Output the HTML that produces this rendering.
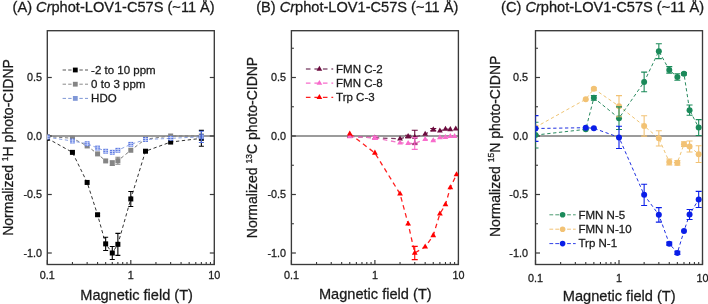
<!DOCTYPE html>
<html><head><meta charset="utf-8"><style>html,body{margin:0;padding:0;background:#fff;width:708px;height:304px;overflow:hidden}svg{display:block;will-change:transform}text{font-family:"Liberation Sans",sans-serif;stroke:#1a1a1a;stroke-width:0.28px}</style></head><body><svg width="708" height="304" viewBox="0 0 708 304" font-family="Liberation Sans, sans-serif"><defs><clipPath id="clip0"><rect x="47.3" y="30.7" width="167" height="233.8"/></clipPath><clipPath id="clip1"><rect x="291.4" y="30.7" width="167" height="233.8"/></clipPath><clipPath id="clip2"><rect x="535.5" y="30.7" width="167" height="233.8"/></clipPath></defs><rect width="708" height="304" fill="#fff"/><path d="M47.3 136H214.3" stroke="#7a7a7a" stroke-width="1.4"/><path d="M47.3 264.5V260" stroke="#3a3a3a" stroke-width="1.2"/><path d="M72.44 264.5V262" stroke="#3a3a3a" stroke-width="1.1"/><path d="M87.14 264.5V262" stroke="#3a3a3a" stroke-width="1.1"/><path d="M97.57 264.5V262" stroke="#3a3a3a" stroke-width="1.1"/><path d="M105.66 264.5V262" stroke="#3a3a3a" stroke-width="1.1"/><path d="M112.28 264.5V262" stroke="#3a3a3a" stroke-width="1.1"/><path d="M117.87 264.5V262" stroke="#3a3a3a" stroke-width="1.1"/><path d="M122.71 264.5V262" stroke="#3a3a3a" stroke-width="1.1"/><path d="M126.98 264.5V262" stroke="#3a3a3a" stroke-width="1.1"/><path d="M130.8 264.5V260" stroke="#3a3a3a" stroke-width="1.2"/><path d="M155.94 264.5V262" stroke="#3a3a3a" stroke-width="1.1"/><path d="M170.64 264.5V262" stroke="#3a3a3a" stroke-width="1.1"/><path d="M181.07 264.5V262" stroke="#3a3a3a" stroke-width="1.1"/><path d="M189.16 264.5V262" stroke="#3a3a3a" stroke-width="1.1"/><path d="M195.78 264.5V262" stroke="#3a3a3a" stroke-width="1.1"/><path d="M201.37 264.5V262" stroke="#3a3a3a" stroke-width="1.1"/><path d="M206.21 264.5V262" stroke="#3a3a3a" stroke-width="1.1"/><path d="M210.48 264.5V262" stroke="#3a3a3a" stroke-width="1.1"/><path d="M214.3 264.5V260" stroke="#3a3a3a" stroke-width="1.2"/><path d="M47.3 77.5H51.8" stroke="#3a3a3a" stroke-width="1.2"/><path d="M214.3 77.5H209.8" stroke="#3a3a3a" stroke-width="1.2"/><text x="42" y="81.4" font-size="10.8" text-anchor="end" fill="#222">0.5</text><path d="M47.3 136H51.8" stroke="#3a3a3a" stroke-width="1.2"/><path d="M214.3 136H209.8" stroke="#3a3a3a" stroke-width="1.2"/><text x="42" y="139.9" font-size="10.8" text-anchor="end" fill="#222">0.0</text><path d="M47.3 194.5H51.8" stroke="#3a3a3a" stroke-width="1.2"/><path d="M214.3 194.5H209.8" stroke="#3a3a3a" stroke-width="1.2"/><text x="42" y="198.4" font-size="10.8" text-anchor="end" fill="#222">-0.5</text><path d="M47.3 253H51.8" stroke="#3a3a3a" stroke-width="1.2"/><path d="M214.3 253H209.8" stroke="#3a3a3a" stroke-width="1.2"/><text x="42" y="256.9" font-size="10.8" text-anchor="end" fill="#222">-1.0</text><text x="47.3" y="278.7" font-size="10.8" text-anchor="middle" fill="#222">0.1</text><text x="130.8" y="278.7" font-size="10.8" text-anchor="middle" fill="#222">1</text><text x="214.3" y="278.7" font-size="10.8" text-anchor="middle" fill="#222">10</text><rect x="47.3" y="30.7" width="167" height="233.8" fill="none" stroke="#3a3a3a" stroke-width="1.35"/><text x="136.6" y="299.5" font-size="14.6" text-anchor="middle" fill="#1a1a1a">Magnetic field (T)</text><text x="214.7" y="12" font-size="14.6" text-anchor="end" fill="#1a1a1a">(A) <tspan font-style="italic">Cr</tspan>phot-LOV1-C57S (~11 Å)</text><text transform="translate(13.4 147.5) rotate(-90)" font-size="14" text-anchor="middle" fill="#1a1a1a">Normalized <tspan font-size="8.5" dy="-5.5">1</tspan><tspan dy="5.5">H photo-CIDNP</tspan></text><g clip-path="url(#clip0)"><path d="M47.3 138.34 L72.44 152.38 L87.14 182.45 L97.57 214.74 L105.66 243.87 L112.28 253 L117.87 244.34 L130.8 198.95 L145.5 151.21 L170.64 142.08 L201.37 138.34" fill="none" stroke="#333" stroke-width="1.0" stroke-dasharray="3.3 2.6"/><path d="M47.3 136.59 L72.44 138.22 L87.14 145.94 L97.57 153.9 L105.66 160.92 L112.28 163.14 L117.87 160.69 L130.8 150.27 L145.5 139.16 L170.64 136 L201.37 136" fill="none" stroke="#7a7a7a" stroke-width="1.0" stroke-dasharray="3.3 2.6"/><path d="M47.3 137.17 L72.44 141.03 L87.14 143.72 L97.57 148.05 L105.66 151.21 L112.28 152.26 L117.87 150.27 L130.8 144.31 L145.5 139.51 L170.64 138.34 L201.37 136.82" fill="none" stroke="#8aa0e0" stroke-width="1.0" stroke-dasharray="3.3 2.6"/><rect x="44.8" y="135.84" width="5" height="5" fill="#000"/><rect x="69.94" y="149.88" width="5" height="5" fill="#000"/><rect x="84.64" y="179.95" width="5" height="5" fill="#000"/><rect x="95.07" y="212.24" width="5" height="5" fill="#000"/><rect x="103.16" y="241.37" width="5" height="5" fill="#000"/><rect x="109.78" y="250.5" width="5" height="5" fill="#000"/><rect x="115.37" y="241.84" width="5" height="5" fill="#000"/><rect x="128.3" y="196.45" width="5" height="5" fill="#000"/><rect x="143" y="148.71" width="5" height="5" fill="#000"/><rect x="168.14" y="139.58" width="5" height="5" fill="#000"/><rect x="198.87" y="135.84" width="5" height="5" fill="#000"/><rect x="44.8" y="134.09" width="5" height="5" fill="#858585"/><rect x="69.94" y="135.72" width="5" height="5" fill="#858585"/><rect x="84.64" y="143.44" width="5" height="5" fill="#858585"/><rect x="95.07" y="151.4" width="5" height="5" fill="#858585"/><rect x="103.16" y="158.42" width="5" height="5" fill="#858585"/><rect x="109.78" y="160.64" width="5" height="5" fill="#858585"/><rect x="115.37" y="158.19" width="5" height="5" fill="#858585"/><rect x="128.3" y="147.77" width="5" height="5" fill="#858585"/><rect x="143" y="136.66" width="5" height="5" fill="#858585"/><rect x="168.14" y="133.5" width="5" height="5" fill="#858585"/><rect x="198.87" y="133.5" width="5" height="5" fill="#858585"/><rect x="44.9" y="134.77" width="4.8" height="4.8" fill="#4f6fe0"/><path d="M44.9 136.27H49.7M44.9 138.27H49.7M47.5 134.77V139.57" stroke="#dfe6fb" stroke-width="0.8"/><rect x="70.04" y="138.63" width="4.8" height="4.8" fill="#4f6fe0"/><path d="M70.04 140.13H74.84M70.04 142.13H74.84M72.64 138.63V143.43" stroke="#dfe6fb" stroke-width="0.8"/><rect x="84.74" y="141.32" width="4.8" height="4.8" fill="#4f6fe0"/><path d="M84.74 142.82H89.54M84.74 144.82H89.54M87.34 141.32V146.12" stroke="#dfe6fb" stroke-width="0.8"/><rect x="95.17" y="145.65" width="4.8" height="4.8" fill="#4f6fe0"/><path d="M95.17 147.15H99.97M95.17 149.15H99.97M97.77 145.65V150.45" stroke="#dfe6fb" stroke-width="0.8"/><rect x="103.26" y="148.81" width="4.8" height="4.8" fill="#4f6fe0"/><path d="M103.26 150.31H108.06M103.26 152.31H108.06M105.86 148.81V153.61" stroke="#dfe6fb" stroke-width="0.8"/><rect x="109.88" y="149.86" width="4.8" height="4.8" fill="#4f6fe0"/><path d="M109.88 151.36H114.68M109.88 153.36H114.68M112.48 149.86V154.66" stroke="#dfe6fb" stroke-width="0.8"/><rect x="115.47" y="147.87" width="4.8" height="4.8" fill="#4f6fe0"/><path d="M115.47 149.37H120.27M115.47 151.37H120.27M118.07 147.87V152.67" stroke="#dfe6fb" stroke-width="0.8"/><rect x="128.4" y="141.91" width="4.8" height="4.8" fill="#4f6fe0"/><path d="M128.4 143.41H133.2M128.4 145.41H133.2M131 141.91V146.71" stroke="#dfe6fb" stroke-width="0.8"/><rect x="143.1" y="137.11" width="4.8" height="4.8" fill="#4f6fe0"/><path d="M143.1 138.61H147.9M143.1 140.61H147.9M145.7 137.11V141.91" stroke="#dfe6fb" stroke-width="0.8"/><rect x="168.24" y="135.94" width="4.8" height="4.8" fill="#4f6fe0"/><path d="M168.24 137.44H173.04M168.24 139.44H173.04M170.84 135.94V140.74" stroke="#dfe6fb" stroke-width="0.8"/><rect x="198.97" y="134.42" width="4.8" height="4.8" fill="#4f6fe0"/><path d="M198.97 135.92H203.77M198.97 137.92H203.77M201.57 134.42V139.22" stroke="#dfe6fb" stroke-width="0.8"/><path d="M97.57 213.57V215.91M95.07 213.57H100.07M95.07 215.91H100.07" stroke="#000" stroke-width="1.1" fill="none"/><path d="M105.66 237.21V250.54M103.16 237.21H108.16M103.16 250.54H108.16" stroke="#000" stroke-width="1.1" fill="none"/><path d="M112.28 246.45V259.55M109.78 246.45H114.78M109.78 259.55H114.78" stroke="#000" stroke-width="1.1" fill="none"/><path d="M117.87 233.34V255.34M115.37 233.34H120.37M115.37 255.34H120.37" stroke="#000" stroke-width="1.1" fill="none"/><path d="M130.8 191.46V206.43M128.3 191.46H133.3M128.3 206.43H133.3" stroke="#000" stroke-width="1.1" fill="none"/><path d="M201.37 130.38V146.3M198.87 130.38H203.87M198.87 146.3H203.87" stroke="#000" stroke-width="1.1" fill="none"/><path d="M112.28 160.8V165.48M109.78 160.8H114.78M109.78 165.48H114.78" stroke="#858585" stroke-width="1.1" fill="none"/><path d="M117.87 157.18V164.2M115.37 157.18H120.37M115.37 164.2H120.37" stroke="#858585" stroke-width="1.1" fill="none"/><path d="M201.37 131.2V142.44M198.87 131.2H203.87M198.87 142.44H203.87" stroke="#4f6fe0" stroke-width="1.1" fill="none"/></g><path d="M62.6 70H88" stroke="#555" stroke-width="1" stroke-dasharray="3.4 2.2"/><rect x="72.9" y="67.6" width="4.8" height="4.8" fill="#000"/><text x="91.1" y="73.7" font-size="11.5" fill="#1a1a1a">-2 to 10 ppm</text><path d="M62.6 84.2H88" stroke="#8a8a8a" stroke-width="1" stroke-dasharray="3.4 2.2"/><rect x="72.9" y="81.8" width="4.8" height="4.8" fill="#858585"/><text x="91.1" y="87.9" font-size="11.5" fill="#1a1a1a">0 to 3 ppm</text><path d="M62.6 98.4H88" stroke="#7f97d6" stroke-width="1" stroke-dasharray="3.4 2.2"/><rect x="72.9" y="96" width="4.8" height="4.8" fill="#7f97d6"/><text x="91.1" y="102.1" font-size="11.5" fill="#1a1a1a">HDO</text><path d="M291.4 136H458.4" stroke="#7a7a7a" stroke-width="1.4"/><path d="M291.4 264.5V260" stroke="#3a3a3a" stroke-width="1.2"/><path d="M316.54 264.5V262" stroke="#3a3a3a" stroke-width="1.1"/><path d="M331.24 264.5V262" stroke="#3a3a3a" stroke-width="1.1"/><path d="M341.67 264.5V262" stroke="#3a3a3a" stroke-width="1.1"/><path d="M349.76 264.5V262" stroke="#3a3a3a" stroke-width="1.1"/><path d="M356.38 264.5V262" stroke="#3a3a3a" stroke-width="1.1"/><path d="M361.97 264.5V262" stroke="#3a3a3a" stroke-width="1.1"/><path d="M366.81 264.5V262" stroke="#3a3a3a" stroke-width="1.1"/><path d="M371.08 264.5V262" stroke="#3a3a3a" stroke-width="1.1"/><path d="M374.9 264.5V260" stroke="#3a3a3a" stroke-width="1.2"/><path d="M400.04 264.5V262" stroke="#3a3a3a" stroke-width="1.1"/><path d="M414.74 264.5V262" stroke="#3a3a3a" stroke-width="1.1"/><path d="M425.17 264.5V262" stroke="#3a3a3a" stroke-width="1.1"/><path d="M433.26 264.5V262" stroke="#3a3a3a" stroke-width="1.1"/><path d="M439.88 264.5V262" stroke="#3a3a3a" stroke-width="1.1"/><path d="M445.47 264.5V262" stroke="#3a3a3a" stroke-width="1.1"/><path d="M450.31 264.5V262" stroke="#3a3a3a" stroke-width="1.1"/><path d="M454.58 264.5V262" stroke="#3a3a3a" stroke-width="1.1"/><path d="M458.4 264.5V260" stroke="#3a3a3a" stroke-width="1.2"/><path d="M291.4 77.5H295.9" stroke="#3a3a3a" stroke-width="1.2"/><text x="286.1" y="81.4" font-size="10.8" text-anchor="end" fill="#222">0.5</text><path d="M291.4 136H295.9" stroke="#3a3a3a" stroke-width="1.2"/><text x="286.1" y="139.9" font-size="10.8" text-anchor="end" fill="#222">0.0</text><path d="M291.4 194.5H295.9" stroke="#3a3a3a" stroke-width="1.2"/><text x="286.1" y="198.4" font-size="10.8" text-anchor="end" fill="#222">-0.5</text><path d="M291.4 253H295.9" stroke="#3a3a3a" stroke-width="1.2"/><text x="286.1" y="256.9" font-size="10.8" text-anchor="end" fill="#222">-1.0</text><path d="M291.4 48.25H293.9" stroke="#3a3a3a" stroke-width="1.1"/><path d="M291.4 106.75H293.9" stroke="#3a3a3a" stroke-width="1.1"/><path d="M291.4 165.25H293.9" stroke="#3a3a3a" stroke-width="1.1"/><path d="M291.4 223.75H293.9" stroke="#3a3a3a" stroke-width="1.1"/><text x="291.4" y="278.7" font-size="10.8" text-anchor="middle" fill="#222">0.1</text><text x="374.9" y="278.7" font-size="10.8" text-anchor="middle" fill="#222">1</text><text x="458.4" y="278.7" font-size="10.8" text-anchor="middle" fill="#222">10</text><rect x="291.4" y="30.7" width="167" height="233.8" fill="none" stroke="#3a3a3a" stroke-width="1.35"/><text x="375.3" y="299.3" font-size="14.6" text-anchor="middle" fill="#1a1a1a">Magnetic field (T)</text><text x="458.3" y="12" font-size="14.6" text-anchor="end" fill="#1a1a1a">(B) <tspan font-style="italic">Cr</tspan>phot-LOV1-C57S (~11 Å)</text><text transform="translate(257.1 147.5) rotate(-90)" font-size="14" text-anchor="middle" fill="#1a1a1a">Normalized <tspan font-size="8.5" dy="-5.5">13</tspan><tspan dy="5.5">C photo-CIDNP</tspan></text><g clip-path="url(#clip1)"><path d="M349.76 136.23 L374.9 137.75 L400.04 138.81 L408.13 136.47 L414.74 137.17 L425.17 134.13 L433.26 129.68 L439.88 130.85 L445.47 129.1 L450.31 129.45 L455.77 128.86" fill="none" stroke="#7a3a60" stroke-width="1.3" stroke-dasharray="4.6 3.7"/><path d="M349.76 136.47 L374.9 137.87 L400.04 142.79 L408.13 143.25 L414.74 143.49 L425.17 139.28 L433.26 140.68 L439.88 137.64 L445.47 137.4 L450.31 136.35 L454.58 136.35" fill="none" stroke="#f07ac8" stroke-width="1.3" stroke-dasharray="4.6 3.7"/><path d="M349.76 133.78 L374.9 152.97 L400.04 193.91 L408.13 223.75 L414.74 253 L425.17 246.92 L433.26 235.45 L439.88 213.81 L445.47 204.68 L450.31 187.6 L456.54 174.49" fill="none" stroke="#ff2020" stroke-width="1.3" stroke-dasharray="4.6 3.7"/><path d="M346.86 137.92L349.76 132.87L352.66 137.92Z" fill="#6c0b3e"/><path d="M372 139.44L374.9 134.39L377.8 139.44Z" fill="#6c0b3e"/><path d="M397.14 140.49L400.04 135.44L402.94 140.49Z" fill="#6c0b3e"/><path d="M405.23 138.15L408.13 133.1L411.03 138.15Z" fill="#6c0b3e"/><path d="M411.84 138.85L414.74 133.81L417.64 138.85Z" fill="#6c0b3e"/><path d="M422.27 135.81L425.17 130.76L428.07 135.81Z" fill="#6c0b3e"/><path d="M430.36 131.36L433.26 126.32L436.16 131.36Z" fill="#6c0b3e"/><path d="M436.98 132.53L439.88 127.49L442.78 132.53Z" fill="#6c0b3e"/><path d="M442.57 130.78L445.47 125.73L448.37 130.78Z" fill="#6c0b3e"/><path d="M447.41 131.13L450.31 126.08L453.21 131.13Z" fill="#6c0b3e"/><path d="M452.87 130.54L455.77 125.5L458.67 130.54Z" fill="#6c0b3e"/><path d="M346.86 138.15L349.76 133.1L352.66 138.15Z" fill="#f86ccc"/><path d="M372 139.55L374.9 134.51L377.8 139.55Z" fill="#f86ccc"/><path d="M397.14 144.47L400.04 139.42L402.94 144.47Z" fill="#f86ccc"/><path d="M405.23 144.94L408.13 139.89L411.03 144.94Z" fill="#f86ccc"/><path d="M411.84 145.17L414.74 140.12L417.64 145.17Z" fill="#f86ccc"/><path d="M422.27 140.96L425.17 135.91L428.07 140.96Z" fill="#f86ccc"/><path d="M430.36 142.36L433.26 137.32L436.16 142.36Z" fill="#f86ccc"/><path d="M436.98 139.32L439.88 134.27L442.78 139.32Z" fill="#f86ccc"/><path d="M442.57 139.09L445.47 134.04L448.37 139.09Z" fill="#f86ccc"/><path d="M447.41 138.03L450.31 132.99L453.21 138.03Z" fill="#f86ccc"/><path d="M451.68 138.03L454.58 132.99L457.48 138.03Z" fill="#f86ccc"/><path d="M346.86 135.46L349.76 130.41L352.66 135.46Z" fill="#ff0000"/><path d="M372 154.65L374.9 149.6L377.8 154.65Z" fill="#ff0000"/><path d="M397.14 195.6L400.04 190.55L402.94 195.6Z" fill="#ff0000"/><path d="M405.23 225.43L408.13 220.39L411.03 225.43Z" fill="#ff0000"/><path d="M411.84 254.68L414.74 249.64L417.64 254.68Z" fill="#ff0000"/><path d="M422.27 248.6L425.17 243.55L428.07 248.6Z" fill="#ff0000"/><path d="M430.36 237.13L433.26 232.09L436.16 237.13Z" fill="#ff0000"/><path d="M436.98 215.49L439.88 210.44L442.78 215.49Z" fill="#ff0000"/><path d="M442.57 206.36L445.47 201.31L448.37 206.36Z" fill="#ff0000"/><path d="M447.41 189.28L450.31 184.23L453.21 189.28Z" fill="#ff0000"/><path d="M453.64 176.17L456.54 171.13L459.44 176.17Z" fill="#ff0000"/><path d="M408.13 135.3V137.64M405.13 135.3H411.13M405.13 137.64H411.13" stroke="#6c0b3e" stroke-width="1.1" fill="none"/><path d="M414.74 130.27V144.07M411.74 130.27H417.74M411.74 144.07H417.74" stroke="#6c0b3e" stroke-width="1.1" fill="none"/><path d="M433.26 128.51V130.85M430.26 128.51H436.26M430.26 130.85H436.26" stroke="#6c0b3e" stroke-width="1.1" fill="none"/><path d="M374.9 136.35V139.39M371.9 136.35H377.9M371.9 139.39H377.9" stroke="#f86ccc" stroke-width="1.1" fill="none"/><path d="M414.74 137.64V149.34M411.74 137.64H417.74M411.74 149.34H417.74" stroke="#f86ccc" stroke-width="1.1" fill="none"/><path d="M414.74 246.33V259.67M411.74 246.33H417.74M411.74 259.67H417.74" stroke="#ff0000" stroke-width="1.1" fill="none"/></g><path d="M305.9 69H333.2" stroke="#8a5a7a" stroke-width="1.3" stroke-dasharray="4.6 3.9"/><path d="M316.55 70.65L319.4 65.69L322.25 70.65Z" fill="#6c0b3e"/><text x="336.1" y="72.7" font-size="11.5" fill="#1a1a1a">FMN C-2</text><path d="M305.9 83.2H333.2" stroke="#f86ccc" stroke-width="1.3" stroke-dasharray="4.6 3.9"/><path d="M316.55 84.85L319.4 79.89L322.25 84.85Z" fill="#f86ccc"/><text x="336.1" y="86.9" font-size="11.5" fill="#1a1a1a">FMN C-8</text><path d="M305.9 97.4H333.2" stroke="#ff2020" stroke-width="1.3" stroke-dasharray="4.6 3.9"/><path d="M316.55 99.05L319.4 94.09L322.25 99.05Z" fill="#ff0000"/><text x="336.1" y="101.1" font-size="11.5" fill="#1a1a1a">Trp C-3</text><path d="M535.5 136H702.5" stroke="#7a7a7a" stroke-width="1.4"/><path d="M535.5 264.5V260" stroke="#3a3a3a" stroke-width="1.2"/><path d="M560.64 264.5V262" stroke="#3a3a3a" stroke-width="1.1"/><path d="M575.34 264.5V262" stroke="#3a3a3a" stroke-width="1.1"/><path d="M585.77 264.5V262" stroke="#3a3a3a" stroke-width="1.1"/><path d="M593.86 264.5V262" stroke="#3a3a3a" stroke-width="1.1"/><path d="M600.48 264.5V262" stroke="#3a3a3a" stroke-width="1.1"/><path d="M606.07 264.5V262" stroke="#3a3a3a" stroke-width="1.1"/><path d="M610.91 264.5V262" stroke="#3a3a3a" stroke-width="1.1"/><path d="M615.18 264.5V262" stroke="#3a3a3a" stroke-width="1.1"/><path d="M619 264.5V260" stroke="#3a3a3a" stroke-width="1.2"/><path d="M644.14 264.5V262" stroke="#3a3a3a" stroke-width="1.1"/><path d="M658.84 264.5V262" stroke="#3a3a3a" stroke-width="1.1"/><path d="M669.27 264.5V262" stroke="#3a3a3a" stroke-width="1.1"/><path d="M677.36 264.5V262" stroke="#3a3a3a" stroke-width="1.1"/><path d="M683.98 264.5V262" stroke="#3a3a3a" stroke-width="1.1"/><path d="M689.57 264.5V262" stroke="#3a3a3a" stroke-width="1.1"/><path d="M694.41 264.5V262" stroke="#3a3a3a" stroke-width="1.1"/><path d="M698.68 264.5V262" stroke="#3a3a3a" stroke-width="1.1"/><path d="M702.5 264.5V260" stroke="#3a3a3a" stroke-width="1.2"/><path d="M535.5 77.5H540" stroke="#3a3a3a" stroke-width="1.2"/><text x="527.9" y="81.4" font-size="10.8" text-anchor="end" fill="#222">0.5</text><path d="M535.5 136H540" stroke="#3a3a3a" stroke-width="1.2"/><text x="527.9" y="139.9" font-size="10.8" text-anchor="end" fill="#222">0.0</text><path d="M535.5 194.5H540" stroke="#3a3a3a" stroke-width="1.2"/><text x="527.9" y="198.4" font-size="10.8" text-anchor="end" fill="#222">-0.5</text><path d="M535.5 253H540" stroke="#3a3a3a" stroke-width="1.2"/><text x="527.9" y="256.9" font-size="10.8" text-anchor="end" fill="#222">-1.0</text><path d="M535.5 48.25H538" stroke="#3a3a3a" stroke-width="1.1"/><path d="M535.5 106.75H538" stroke="#3a3a3a" stroke-width="1.1"/><path d="M535.5 165.25H538" stroke="#3a3a3a" stroke-width="1.1"/><path d="M535.5 223.75H538" stroke="#3a3a3a" stroke-width="1.1"/><text x="535.5" y="281.9" font-size="10.8" text-anchor="middle" fill="#222">0.1</text><text x="619" y="281.9" font-size="10.8" text-anchor="middle" fill="#222">1</text><text x="702.5" y="281.9" font-size="10.8" text-anchor="middle" fill="#222">10</text><rect x="535.5" y="30.7" width="167" height="233.8" fill="none" stroke="#3a3a3a" stroke-width="1.35"/><text x="619.2" y="300.5" font-size="14.6" text-anchor="middle" fill="#1a1a1a">Magnetic field (T)</text><text x="704" y="12" font-size="14.6" text-anchor="end" fill="#1a1a1a">(C) <tspan font-style="italic">Cr</tspan>phot-LOV1-C57S (~11 Å)</text><text transform="translate(499.5 146.3) rotate(-90)" font-size="14" text-anchor="middle" fill="#1a1a1a">Normalized <tspan font-size="8.5" dy="-5.5">15</tspan><tspan dy="5.5">N photo-CIDNP</tspan></text><g clip-path="url(#clip2)"><path d="M535.5 127.22 L585.77 99.26 L593.86 88.85 L619 106.16 L644.14 125.94 L658.84 138.34 L669.27 161.97 L677.36 162.79 L683.98 144.19 L689.57 146.53 L698.68 154.13" fill="none" stroke="#efc474" stroke-width="1.0" stroke-dasharray="3.3 2.6"/><path d="M535.5 135.06 L585.77 129.33 L593.86 97.86 L619 118.22 L644.14 81.95 L658.84 51.17 L669.27 69.9 L677.36 77.03 L683.98 73.76 L689.57 110.14 L698.68 127.58" fill="none" stroke="#2a8a60" stroke-width="1.0" stroke-dasharray="3.3 2.6"/><path d="M535.5 128.51 L585.77 127.69 L593.86 128.28 L619 137.4 L644.14 194.85 L658.84 214.86 L669.27 243.64 L677.36 252.88 L683.98 231.12 L689.57 214.51 L698.68 199.41" fill="none" stroke="#2030e0" stroke-width="1.0" stroke-dasharray="3.3 2.6"/><circle cx="535.5" cy="127.22" r="3" fill="#f2c274"/><circle cx="585.77" cy="99.26" r="3" fill="#f2c274"/><circle cx="593.86" cy="88.85" r="3" fill="#f2c274"/><circle cx="619" cy="106.16" r="3" fill="#f2c274"/><circle cx="644.14" cy="125.94" r="3" fill="#f2c274"/><circle cx="658.84" cy="138.34" r="3" fill="#f2c274"/><circle cx="669.27" cy="161.97" r="3" fill="#f2c274"/><circle cx="677.36" cy="162.79" r="3" fill="#f2c274"/><circle cx="683.98" cy="144.19" r="3" fill="#f2c274"/><circle cx="689.57" cy="146.53" r="3" fill="#f2c274"/><circle cx="698.68" cy="154.13" r="3" fill="#f2c274"/><circle cx="535.5" cy="135.06" r="3" fill="#1b8a5a"/><circle cx="585.77" cy="129.33" r="3" fill="#1b8a5a"/><circle cx="593.86" cy="97.86" r="3" fill="#1b8a5a"/><circle cx="619" cy="118.22" r="3" fill="#1b8a5a"/><circle cx="644.14" cy="81.95" r="3" fill="#1b8a5a"/><circle cx="658.84" cy="51.17" r="3" fill="#1b8a5a"/><circle cx="669.27" cy="69.9" r="3" fill="#1b8a5a"/><circle cx="677.36" cy="77.03" r="3" fill="#1b8a5a"/><circle cx="683.98" cy="73.76" r="3" fill="#1b8a5a"/><circle cx="689.57" cy="110.14" r="3" fill="#1b8a5a"/><circle cx="698.68" cy="127.58" r="3" fill="#1b8a5a"/><circle cx="535.5" cy="128.51" r="3" fill="#0a1ee8"/><circle cx="585.77" cy="127.69" r="3" fill="#0a1ee8"/><circle cx="593.86" cy="128.28" r="3" fill="#0a1ee8"/><circle cx="619" cy="137.4" r="3" fill="#0a1ee8"/><circle cx="644.14" cy="194.85" r="3" fill="#0a1ee8"/><circle cx="658.84" cy="214.86" r="3" fill="#0a1ee8"/><circle cx="669.27" cy="243.64" r="3" fill="#0a1ee8"/><circle cx="677.36" cy="252.88" r="3" fill="#0a1ee8"/><circle cx="683.98" cy="231.12" r="3" fill="#0a1ee8"/><circle cx="689.57" cy="214.51" r="3" fill="#0a1ee8"/><circle cx="698.68" cy="199.41" r="3" fill="#0a1ee8"/><path d="M593.86 87.68V90.02M590.86 87.68H596.86M590.86 90.02H596.86" stroke="#f2c274" stroke-width="1.1" fill="none"/><path d="M619 95.63V116.69M616 95.63H622M616 116.69H622" stroke="#f2c274" stroke-width="1.1" fill="none"/><path d="M644.14 115.76V136.12M641.14 115.76H647.14M641.14 136.12H647.14" stroke="#f2c274" stroke-width="1.1" fill="none"/><path d="M658.84 130.74V145.94M655.84 130.74H661.84M655.84 145.94H661.84" stroke="#f2c274" stroke-width="1.1" fill="none"/><path d="M669.27 159.05V164.9M666.27 159.05H672.27M666.27 164.9H672.27" stroke="#f2c274" stroke-width="1.1" fill="none"/><path d="M677.36 160.45V165.13M674.36 160.45H680.36M674.36 165.13H680.36" stroke="#f2c274" stroke-width="1.1" fill="none"/><path d="M683.98 141.85V146.53M680.98 141.85H686.98M680.98 146.53H686.98" stroke="#f2c274" stroke-width="1.1" fill="none"/><path d="M689.57 141.03V152.03M686.57 141.03H692.57M686.57 152.03H692.57" stroke="#f2c274" stroke-width="1.1" fill="none"/><path d="M698.68 145.71V162.56M695.68 145.71H701.68M695.68 162.56H701.68" stroke="#f2c274" stroke-width="1.1" fill="none"/><path d="M535.5 122.19V147.93M532.5 122.19H538.5M532.5 147.93H538.5" stroke="#1b8a5a" stroke-width="1.1" fill="none"/><path d="M593.86 95.52V100.2M590.86 95.52H596.86M590.86 100.2H596.86" stroke="#1b8a5a" stroke-width="1.1" fill="none"/><path d="M619 106.87V129.56M616 106.87H622M616 129.56H622" stroke="#1b8a5a" stroke-width="1.1" fill="none"/><path d="M644.14 72.12V91.77M641.14 72.12H647.14M641.14 91.77H647.14" stroke="#1b8a5a" stroke-width="1.1" fill="none"/><path d="M658.84 43.69V58.66M655.84 43.69H661.84M655.84 58.66H661.84" stroke="#1b8a5a" stroke-width="1.1" fill="none"/><path d="M669.27 66.62V73.17M666.27 66.62H672.27M666.27 73.17H672.27" stroke="#1b8a5a" stroke-width="1.1" fill="none"/><path d="M677.36 73.76V80.31M674.36 73.76H680.36M674.36 80.31H680.36" stroke="#1b8a5a" stroke-width="1.1" fill="none"/><path d="M683.98 72.59V74.93M680.98 72.59H686.98M680.98 74.93H686.98" stroke="#1b8a5a" stroke-width="1.1" fill="none"/><path d="M689.57 105V115.29M686.57 105H692.57M686.57 115.29H692.57" stroke="#1b8a5a" stroke-width="1.1" fill="none"/><path d="M698.68 119.62V135.53M695.68 119.62H701.68M695.68 135.53H701.68" stroke="#1b8a5a" stroke-width="1.1" fill="none"/><path d="M535.5 115.64V141.38M532.5 115.64H538.5M532.5 141.38H538.5" stroke="#0a1ee8" stroke-width="1.1" fill="none"/><path d="M619 126.29V148.52M616 126.29H622M616 148.52H622" stroke="#0a1ee8" stroke-width="1.1" fill="none"/><path d="M644.14 184.2V205.5M641.14 184.2H647.14M641.14 205.5H647.14" stroke="#0a1ee8" stroke-width="1.1" fill="none"/><path d="M658.84 207.6V222.11M655.84 207.6H661.84M655.84 222.11H661.84" stroke="#0a1ee8" stroke-width="1.1" fill="none"/><path d="M669.27 242.12V245.16M666.27 242.12H672.27M666.27 245.16H672.27" stroke="#0a1ee8" stroke-width="1.1" fill="none"/><path d="M677.36 251.24V254.52M674.36 251.24H680.36M674.36 254.52H680.36" stroke="#0a1ee8" stroke-width="1.1" fill="none"/><path d="M689.57 209.48V219.54M686.57 209.48H692.57M686.57 219.54H692.57" stroke="#0a1ee8" stroke-width="1.1" fill="none"/><path d="M698.68 191.34V207.49M695.68 191.34H701.68M695.68 207.49H701.68" stroke="#0a1ee8" stroke-width="1.1" fill="none"/></g><path d="M549.4 214.8H575.7" stroke="#4a9a70" stroke-width="1" stroke-dasharray="3.8 2.1"/><circle cx="562.6" cy="214.8" r="2.8" fill="#1b8a5a"/><text x="578.5" y="218.5" font-size="11.5" fill="#1a1a1a">FMN N-5</text><path d="M549.4 229.2H575.7" stroke="#f2c274" stroke-width="1" stroke-dasharray="3.8 2.1"/><circle cx="562.6" cy="229.2" r="2.8" fill="#f2c274"/><text x="578.5" y="232.9" font-size="11.5" fill="#1a1a1a">FMN N-10</text><path d="M549.4 243.6H575.7" stroke="#3040e8" stroke-width="1" stroke-dasharray="3.8 2.1"/><circle cx="562.6" cy="243.6" r="2.8" fill="#0a1ee8"/><text x="578.5" y="247.3" font-size="11.5" fill="#1a1a1a">Trp N-1</text></svg></body></html>
